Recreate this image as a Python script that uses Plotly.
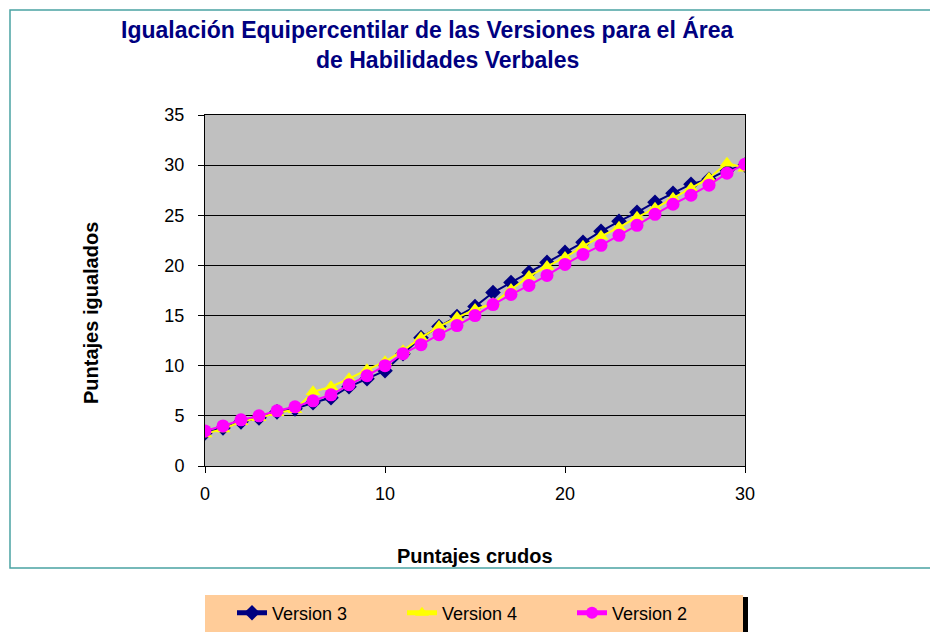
import plotly.graph_objects as go

x_raw = list(range(0, 31))
version3 = [3.3, 3.8, 4.4, 4.8, 5.4, 5.7, 6.3, 6.8, 7.9, 8.7, 9.5, 11.2, 12.8, 13.9, 14.9, 15.9,
            17.3, 18.3, 19.3, 20.3, 21.3, 22.3, 23.4, 24.4, 25.3, 26.3, 27.2, 28.1, 28.6, 29.5, 30.0]
version4 = [3.2, 3.7, 4.4, 4.8, 5.3, 5.6, 7.4, 7.9, 8.7, 9.6, 10.4, 11.5, 12.8, 13.9, 14.8, 15.6,
            16.2, 17.6, 18.9, 19.9, 20.8, 21.9, 22.9, 23.8, 24.8, 25.7, 26.7, 27.7, 28.7, 30.2, 29.7]
version2 = [3.5, 4.0, 4.6, 5.0, 5.5, 5.9, 6.5, 7.1, 8.1, 9.0, 10.0, 11.2, 12.1, 13.1, 14.0, 15.0,
            16.1, 17.1, 18.0, 19.0, 20.1, 21.1, 22.0, 23.0, 24.0, 25.1, 26.1, 27.0, 28.0, 29.2, 30.1]

W, H = 930, 633
L, R, T, B = 205, 745, 115, 466  # plot area pixels


def px(xp):
    return (xp - L) / (R - L)


def py(yp):
    return (B - yp) / (B - T)


FONT = "Liberation Sans, Arial, sans-serif"

fig = go.Figure()
fig.add_trace(go.Scatter(x=x_raw, y=version3, mode="lines+markers", name="Version 3",
                         line=dict(color="#000080", width=2),
                         marker=dict(symbol="diamond", size=12, color="#000080")))
fig.add_trace(go.Scatter(x=x_raw, y=version4, mode="lines+markers", name="Version 4",
                         line=dict(color="#FFFF00", width=2),
                         marker=dict(symbol="triangle-up", size=13, color="#FFFF00")))
fig.add_trace(go.Scatter(x=x_raw, y=version2, mode="lines+markers", name="Version 2",
                         line=dict(color="#FF00FF", width=2),
                         marker=dict(symbol="circle", size=13, color="#FF00FF")))

shapes = [
    # outer chart frame
    dict(type="rect", xref="paper", yref="paper", x0=px(10), x1=px(940), y0=py(568), y1=py(10),
         line=dict(color="#4aa3a3", width=1.5), fillcolor="rgba(0,0,0,0)", layer="below"),
    # legend background
    dict(type="rect", xref="paper", yref="paper", x0=px(205), x1=px(743), y0=py(632), y1=py(595),
         line=dict(width=0), fillcolor="#FFCC99", layer="below"),
    # legend shadow bar
    dict(type="rect", xref="paper", yref="paper", x0=px(743), x1=px(748), y0=py(632), y1=py(597),
         line=dict(width=0), fillcolor="#000000", layer="below"),
]

annotations = [
    dict(text="<b>Igualación Equipercentilar de las Versiones para el Área</b>", xref="paper", yref="paper",
         x=px(427), y=py(30), xanchor="center", yanchor="middle", showarrow=False,
         font=dict(family=FONT, size=23, color="#000080")),
    dict(text="<b>de Habilidades Verbales</b>", xref="paper", yref="paper",
         x=px(447), y=py(60), xanchor="center", yanchor="middle", showarrow=False,
         font=dict(family=FONT, size=23, color="#000080")),
    dict(text="<b>Puntajes igualados</b>", xref="paper", yref="paper",
         x=px(91), y=py(313), xanchor="center", yanchor="middle", showarrow=False, textangle=-90,
         font=dict(family=FONT, size=20, color="#000000")),
    dict(text="<b>Puntajes crudos</b>", xref="paper", yref="paper",
         x=px(475), y=py(556), xanchor="center", yanchor="middle", showarrow=False,
         font=dict(family=FONT, size=20, color="#000000")),
]

fig.update_layout(
    width=W, height=H,
    margin=dict(l=L, r=W - R, t=T, b=H - B, autoexpand=False),
    paper_bgcolor="white",
    plot_bgcolor="#C0C0C0",
    font=dict(family=FONT, size=18, color="#000000"),
    showlegend=True,
    legend=dict(orientation="h", x=px(232), y=py(613), xanchor="left", yanchor="middle",
                bgcolor="rgba(0,0,0,0)", borderwidth=0,
                font=dict(family=FONT, size=18, color="#000000"),
                entrywidth=125, entrywidthmode="pixels", itemsizing="constant"),
    shapes=shapes,
    annotations=annotations,
)

fig.update_xaxes(range=[0, 30], tickvals=[0, 10, 20, 30], ticks="outside", ticklen=6,
                 tickcolor="#000000", showgrid=False, zeroline=False,
                 showline=True, linecolor="#000000", linewidth=1, mirror=True,
                 ticklabelstandoff=5, tickfont=dict(family=FONT, size=18))
fig.update_yaxes(range=[0, 35], tickvals=[0, 5, 10, 15, 20, 25, 30, 35], ticks="outside", ticklen=6,
                 tickcolor="#000000", showgrid=True, gridcolor="#000000", gridwidth=1,
                 zeroline=False, showline=True, linecolor="#000000", linewidth=1, mirror=True,
                 ticklabelstandoff=10, tickfont=dict(family=FONT, size=18))

fig.write_html("out.html", config={"displayModeBar": False},
               post_script="document.body.style.margin='0';")
